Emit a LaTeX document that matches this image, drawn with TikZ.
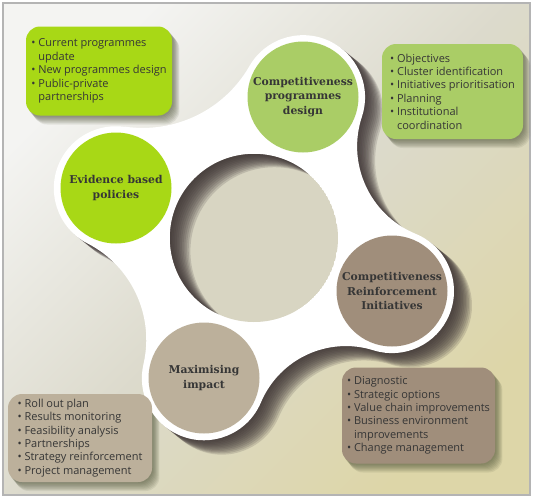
\documentclass[tikz,border=0pt]{standalone}
\usepackage{fontspec}
\setmainfont{Open Sans}
\newfontfamily\labelfont{DejaVu Serif}
\usepackage{tikz}
\usetikzlibrary{positioning, calc, backgrounds}
\definecolor{limegreen}{HTML}{A8D816}
\definecolor{olivegreen}{HTML}{AACD66}
\definecolor{taupe}{HTML}{A08E7B}
\definecolor{sand}{HTML}{BCB09B}
\definecolor{bgtop}{HTML}{F4F4F2}
\definecolor{bgmid}{HTML}{DCDACC}
\definecolor{bgbottom}{HTML}{DDD6A8}
\definecolor{holefill}{HTML}{D8D5C2}
\definecolor{framegray}{HTML}{B4B4B4}
\definecolor{shadowdark}{HTML}{3D3434}
\definecolor{boxshadow}{HTML}{4E5238}
\definecolor{txt}{HTML}{363636}

% outline of the white four-lobed band
\newcommand{\blobpath}{(124.95,126.65)
    arc[start angle=98.3, end angle=29.9, radius=123]
    arc[start angle=209.9, end angle=378.35, radius=62]
    arc[start angle=198.35, end angle=112.4, radius=94.5]
    arc[start angle=-67.6, end angle=107.4, radius=62]
    arc[start angle=287.4, end angle=202.9, radius=92.2]
    arc[start angle=22.9, end angle=193.1, radius=62]
    arc[start angle=13.1, end angle=-62.8, radius=108.25]
    arc[start angle=117.2, end angle=278.3, radius=62] -- cycle}
\newcommand{\bul}{\makebox[7pt][l]{\textbullet}}
\newcommand{\cont}{\hspace*{7pt}}

\begin{document}
\begin{tikzpicture}[
        x=1pt, y=-1pt,
        bubble/.style={circle, minimum size=111pt, inner sep=0pt, align=center, text=txt, font=\labelfont\bfseries\fontsize{10.8}{14.5}\selectfont},
        infobox/.style={rectangle, rounded corners=14pt, inner sep=0pt, align=left, text=txt, font=\fontsize{11}{13.4}\selectfont}
    ]
    \useasboundingbox (0,0) rectangle (535,499);

    % --- Background ---
    \begin{scope}[on background layer]
        \fill[white] (0,0) rectangle (535,499);
        \shade[top color=bgtop, bottom color=bgbottom, middle color=bgmid, shading angle=45] (3,3) rectangle (530,495);
        \draw[framegray, line width=1.2pt] (3,3) rectangle (530,495);
    \end{scope}

    % --- White band with soft shadow ---
    \foreach \k in {1,...,12}
        \fill[shadowdark, opacity=0.16, shift={(\k*1.5,\k*1.2)}] \blobpath;
    \fill[white] \blobpath;

    % --- Central hole, shadowed on its upper left ---
    \coordinate (hole) at (254,238);
    \begin{scope}
        \clip (hole) circle[radius=84];
        \fill[holefill] (hole) circle[radius=84];
        \foreach \k in {1,...,12}
            \fill[shadowdark, opacity=0.17, even odd rule] (150,130) rectangle (360,350) ($(hole)+(\k*1.7,\k*1.1)$) circle[radius=84];
    \end{scope}

    % --- Stages ---
    \node (evidence) [bubble, fill=limegreen] at (116,188) {Evidence based\\policies};
    \node (design) [bubble, fill=olivegreen] at (303,97) {Competitiveness\\programmes\\design};
    \node (reinforce) [bubble, fill=taupe] at (392,291) {Competitiveness\\Reinforcement\\Initiatives};
    \node (impact) [bubble, fill=sand] at (204,378) {Maximising\\impact};

    % --- Activity boxes ---
    \node (evidencebox) [infobox, fill=limegreen, minimum width=146pt, minimum height=89pt] at (99,71) {\bul Current programmes\\\cont update\\\bul New programmes design\\\bul Public-private\\\cont partnerships};
    \node (designbox) [infobox, fill=olivegreen, minimum width=141pt, minimum height=95pt] at (452.5,91.5) {\bul Objectives\\\bul Cluster identification\\\bul Initiatives prioritisation\\\bul Planning\\\bul Institutional\\\cont coordination};
    \node (impactbox) [infobox, fill=sand, minimum width=144pt, minimum height=88pt] at (80,438) {\bul Roll out plan\\\bul Results monitoring\\\bul Feasibility analysis\\\bul Partnerships\\\bul Strategy reinforcement\\\bul Project management};
    \node (reinforcebox) [infobox, fill=taupe, minimum width=153pt, minimum height=96pt] at (418.5,415.5) {\bul Diagnostic\\\bul Strategic options\\\bul Value chain improvements\\\bul Business environment\\\cont improvements\\\bul Change management};

    % --- Box shadows ---
    \begin{scope}[on background layer]
        \foreach \b in {evidencebox, designbox, impactbox, reinforcebox}
            \foreach \k in {1,...,8}
                \fill[boxshadow, opacity=0.1, rounded corners=14pt] ($(\b.north west)+(\k*0.9,\k*1.1)$) rectangle ($(\b.south east)+(\k*0.9,\k*1.1)$);
    \end{scope}

\end{tikzpicture}
\end{document}
